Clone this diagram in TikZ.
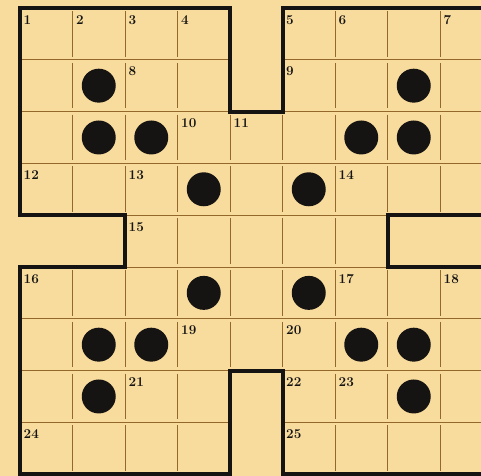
\documentclass[tikz,border=0pt]{standalone}
\usetikzlibrary{positioning}
\definecolor{paper}{HTML}{F8DC9E}
\definecolor{gridbrown}{HTML}{94682A}
\definecolor{ink}{HTML}{161412}

\begin{document}
\begin{tikzpicture}[
    x=52.5pt, y=-51.8pt,
    every node/.style={font=\fontsize{13.5}{13.5}\selectfont\bfseries, text=ink},
    cellnum/.style={anchor=north west, inner sep=0pt, xshift=3.5pt, yshift=-7pt},
    piece/.style={circle, fill=ink, minimum size=34pt, inner sep=0pt},
    gridrule/.style={gridbrown, line width=0.9pt},
    border/.style={line width=4pt, ink, line join=miter},
]

% Paper
\path[fill=paper, use as bounding box] (-0.381,-0.154) rectangle (8.781,9.035);
\clip (-0.381,-0.154) rectangle (8.781,9.035);

% Thin rules: left and top edge of every open cell
\foreach \r/\cols in {0/{0,1,2,3,5,6,7,8}, 1/{0,1,2,3,5,6,7,8},
                      2/{0,...,8}, 3/{0,...,8}, 4/{2,...,6},
                      5/{0,...,8}, 6/{0,...,8},
                      7/{0,1,2,3,5,6,7,8}, 8/{0,1,2,3,5,6,7,8}} {
    \foreach \c in \cols {
        \draw[gridrule] (\c,\r+0.06) -- (\c,\r+0.94);
        \draw[gridrule] (\c,\r) -- (\c+1,\r);
    }
}

% Outline with the four notches
\draw[border] (0,0) -- (4,0) -- (4,2) -- (5,2) -- (5,0) -- (9,0) -- (9,4)
    -- (7,4) -- (7,5) -- (9,5) -- (9,9) -- (5,9) -- (5,7) -- (4,7) -- (4,9)
    -- (0,9) -- (0,5) -- (2,5) -- (2,4) -- (0,4) -- cycle;

% Cell numbers
\foreach \n/\c/\r in {1/0/0, 2/1/0, 3/2/0, 4/3/0, 5/5/0, 6/6/0, 7/8/0,
                      8/2/1, 9/5/1, 10/3/2, 11/4/2, 12/0/3, 13/2/3, 14/6/3,
                      15/2/4, 16/0/5, 17/6/5, 18/8/5, 19/3/6, 20/5/6,
                      21/2/7, 22/5/7, 23/6/7, 24/0/8, 25/5/8} {
    \node[cellnum] (n\n) at (\c,\r) {\n};
}

% Black pieces
\foreach \c/\r [count=\i] in {1/1, 7/1, 1/2, 2/2, 6/2, 7/2, 3/3, 5/3,
                              3/5, 5/5, 1/6, 2/6, 6/6, 7/6, 1/7, 7/7} {
    \node[piece] (d\i) at (\c+0.5,\r+0.5) {};
}

\end{tikzpicture}
\end{document}
